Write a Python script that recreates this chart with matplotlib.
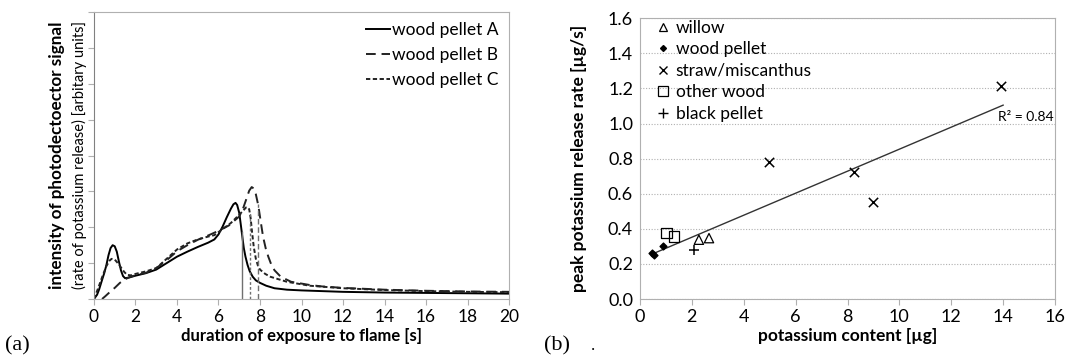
import numpy as np
import matplotlib
matplotlib.use("Agg")
import matplotlib.pyplot as plt
from matplotlib.lines import Line2D

plt.rcParams['font.family'] = ['Lato', 'DejaVu Sans']

# ---- panel (a): photodetector signal vs time ----
a_x = [0, 0.15, 0.25, 0.4, 0.5, 0.6, 0.7, 0.8, 0.9, 1.0, 1.1, 1.2, 1.3, 1.4, 1.5, 1.7, 2.0, 2.5, 3.0, 3.5, 4.0,
       4.5, 5.0, 5.5, 5.8, 6.0, 6.2, 6.4, 6.6, 6.72, 6.82, 6.9, 7.0, 7.08, 7.15, 7.22, 7.3, 7.4, 7.5, 7.65, 7.8,
       8.0, 8.3, 8.7, 9.3, 10.0, 11.0, 12.0, 14.0, 16.0, 18.0, 20.0]
a_y = [0, 0.12, 0.27, 0.55, 0.73, 0.95, 1.22, 1.42, 1.5, 1.47, 1.32, 1.05, 0.8, 0.64, 0.58, 0.6, 0.65, 0.72, 0.82,
       1.0, 1.18, 1.32, 1.45, 1.57, 1.66, 1.8, 2.02, 2.28, 2.52, 2.64, 2.68, 2.62, 2.4, 2.05, 1.73, 1.42, 1.18, 0.95,
       0.78, 0.62, 0.52, 0.45, 0.37, 0.3, 0.26, 0.24, 0.22, 0.2, 0.18, 0.17, 0.16, 0.15]

b_x = [0.39, 0.55, 0.7, 0.85, 1.0, 1.25, 1.5, 1.75, 2.0, 2.25, 2.5, 3.0, 3.5, 4.0, 4.5, 5.0, 5.5, 6.0, 6.5, 7.0,
       7.2, 7.35, 7.48, 7.6, 7.7, 7.8, 7.92, 8.05, 8.15, 8.28, 8.4, 8.55, 8.7, 9.0, 9.5, 10.4, 11.0, 12.0, 14.0,
       16.0, 18.0, 20.0]
b_y = [0, 0.08, 0.16, 0.24, 0.31, 0.45, 0.55, 0.62, 0.66, 0.7, 0.73, 0.86, 1.08, 1.33, 1.5, 1.65, 1.77, 1.9, 2.05,
       2.3, 2.55, 2.8, 3.02, 3.12, 3.08, 2.92, 2.6, 2.1, 1.73, 1.4, 1.18, 0.95, 0.8, 0.62, 0.48, 0.39, 0.35, 0.31,
       0.26, 0.23, 0.21, 0.2]

c_x = [0, 0.2, 0.4, 0.6, 0.75, 0.85, 1.0, 1.15, 1.3, 1.45, 1.6, 1.8, 2.0, 2.5, 3.0, 3.5, 4.0, 4.5, 5.0, 5.5, 5.8,
       6.2, 6.6, 7.0, 7.2, 7.32, 7.4, 7.48, 7.55, 7.62, 7.7, 7.8, 7.9, 8.0, 8.25, 8.5, 9.3, 10.4, 12.0, 14.0, 16.0,
       18.0, 20.0]
c_y = [0, 0.3, 0.62, 0.92, 1.07, 1.12, 1.1, 1.0, 0.88, 0.76, 0.67, 0.66, 0.7, 0.77, 0.86, 1.12, 1.38, 1.55, 1.66,
       1.74, 1.78, 1.95, 2.12, 2.35, 2.47, 2.55, 2.56, 2.5, 2.25, 1.85, 1.45, 1.12, 0.93, 0.82, 0.7, 0.62, 0.48, 0.37,
       0.3, 0.25, 0.22, 0.2, 0.19]

vline_x = [7.12, 7.5, 7.9]

# ---- panel (b): peak release rate vs potassium content ----
willow_x = [2.27, 2.66]
willow_y = [0.338, 0.347]
pellet_x = [0.46, 0.54, 0.9]
pellet_y = [0.262, 0.25, 0.304]
straw_x = [4.96, 8.26, 9.0, 13.93]
straw_y = [0.78, 0.725, 0.554, 1.216]
other_x = [1.03, 1.31]
other_y = [0.376, 0.357]
black_x = [2.08]
black_y = [0.277]
trend_x = [0.45, 14.0]
trend_y = [0.255, 1.105]

fig = plt.figure(figsize=(10.69, 3.61), dpi=100)
spine_c = '#b0b0b0'

# panel a
ax1 = fig.add_axes([0.0879, 0.1717, 0.3883, 0.7951])
ax1.plot(a_x, a_y, color='black', lw=1.4, label='wood pellet A')
ax1.plot(b_x, b_y, color='#222222', lw=1.4, ls=(0, (5, 3)), label='wood pellet B')
ax1.plot(c_x, c_y, color='#222222', lw=1.4, ls=(0, (2.2, 1.3)), label='wood pellet C')
styles = ['-', (0, (2, 1.5)), (0, (4, 2))]
curves = [(a_x, a_y), (c_x, c_y), (b_x, b_y)]
for vx, st, (cx, cy) in zip(vline_x, styles, curves):
    ax1.plot([vx, vx], [0, np.interp(vx, cx, cy)], color='#707070', lw=1.0, ls=st)
ax1.set_xlim(0, 20)
ax1.set_ylim(0, 8)
ax1.set_xticks(range(0, 21, 2))
ax1.set_yticks(range(0, 9))
ax1.set_yticklabels([])
for s in ax1.spines.values():
    s.set_color(spine_c)
ax1.spines['left'].set_color('#808080')
ax1.tick_params(axis='both', colors=spine_c, labelcolor='black', labelsize=12.5, length=4, direction='out')
ax1.set_xlabel('duration of exposure to flame [s]', fontsize=12, fontweight='bold', labelpad=2)
ax1.legend(loc='upper right', frameon=False, fontsize=12.5, handlelength=1.4, handletextpad=0.1,
           labelspacing=0.5, borderaxespad=0.2, bbox_to_anchor=(1.0, 1.0))
fig.text(0.053, 0.57, 'intensity of photodectoector signal', rotation=90, ha='center', va='center',
         fontsize=12.3, fontweight='bold')
fig.text(0.0745, 0.57, '(rate of potassium release) [arbitary units]', rotation=90, ha='center', va='center',
         fontsize=10.5)
fig.text(0.005, 0.03, '(a)', family='Liberation Serif', fontsize=16)

# panel b
ax2 = fig.add_axes([0.5987, 0.1717, 0.3882, 0.7776])
ax2.plot(trend_x, trend_y, color='#333333', lw=1.0)
ax2.scatter(willow_x, willow_y, marker='^', s=45, facecolors='none', edgecolors='black', linewidths=0.9, zorder=3)
ax2.scatter(pellet_x, pellet_y, marker='D', s=12, color='black', zorder=3)
ax2.scatter(straw_x, straw_y, marker='x', s=45, color='black', linewidths=1.1, zorder=3)
ax2.scatter(other_x, other_y, marker='s', s=60, facecolors='none', edgecolors='black', linewidths=0.9, zorder=3)
ax2.scatter(black_x, black_y, marker='+', s=60, color='black', linewidths=1.1, zorder=3)
ax2.set_xlim(0, 16)
ax2.set_ylim(0, 1.6)
ax2.set_xticks(range(0, 17, 2))
ax2.set_yticks(np.arange(0, 1.61, 0.2))
ax2.set_yticklabels(['%.1f' % v for v in np.arange(0, 1.61, 0.2)])
ax2.yaxis.grid(True, color='#b0b0b0', ls=(0, (1, 1.5)), lw=0.8)
ax2.set_axisbelow(True)
for s in ax2.spines.values():
    s.set_color(spine_c)
ax2.tick_params(axis='both', colors=spine_c, labelcolor='black', labelsize=13, length=4, direction='out')
ax2.tick_params(axis='y', length=0, pad=5)
ax2.set_xlabel('potassium content [µg]', fontsize=12.5, fontweight='bold', labelpad=2)
ax2.set_ylabel('peak potassium release rate [µg/s]', fontsize=12.5, fontweight='bold')
ax2.yaxis.set_label_coords(-0.128, 0.5)
ax2.text(13.8, 1.04, 'R² = 0.84', fontsize=10, va='center', ha='left')
handles = [
    Line2D([], [], ls='none', marker='^', mfc='none', mec='black', ms=6, mew=0.9),
    Line2D([], [], ls='none', marker='D', color='black', ms=3),
    Line2D([], [], ls='none', marker='x', color='black', ms=6, mew=1.0),
    Line2D([], [], ls='none', marker='s', mfc='none', mec='black', ms=7, mew=0.9),
    Line2D([], [], ls='none', marker='+', color='black', ms=7, mew=1.0),
]
labels = ['willow', 'wood pellet', 'straw/miscanthus', 'other wood', 'black pellet']
ax2.legend(handles, labels, loc='upper left', bbox_to_anchor=(0.025, 1.02), frameon=False, fontsize=12.5,
           handlelength=0.7, handletextpad=0.35, labelspacing=0.32, borderaxespad=0.0)
fig.text(0.509, 0.03, '(b)', family='Liberation Serif', fontsize=16)
fig.text(0.553, 0.03, '.', family='Liberation Serif', fontsize=12)

fig.savefig('out.png', dpi=100)
